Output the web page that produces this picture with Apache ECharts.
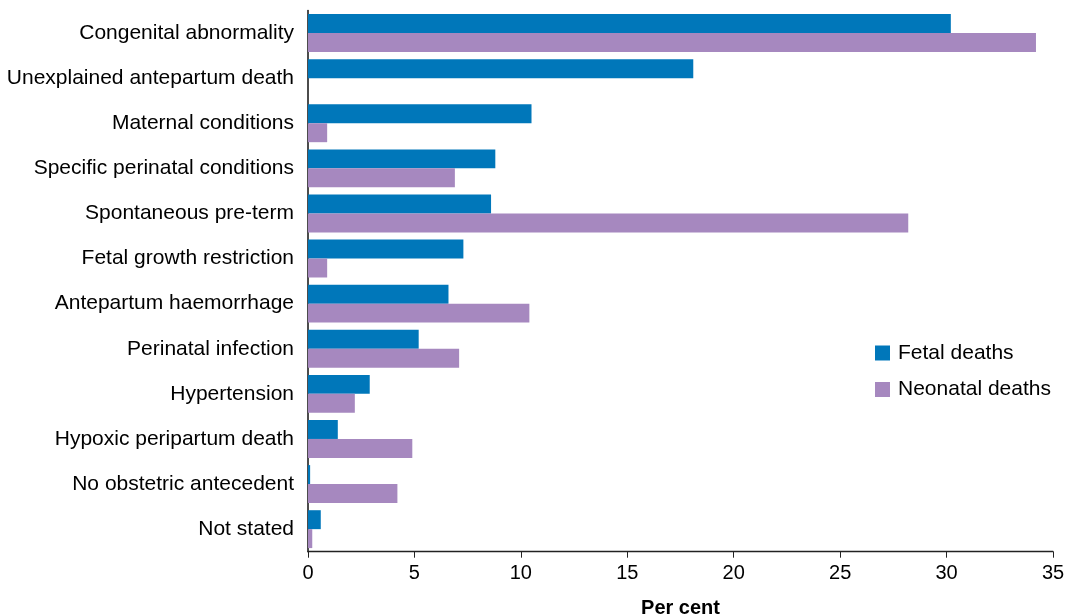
<!DOCTYPE html>
<html><head><meta charset="utf-8">
<script src="https://cdn.jsdelivr.net/npm/echarts@6/dist/echarts.min.js"></script>
<style>html,body{margin:0;padding:0;background:#fff}#c{width:1074px;height:615px}</style>
</head><body><div id="c"></div>
<script>
const categories = ["Congenital abnormality","Unexplained antepartum death","Maternal conditions","Specific perinatal conditions","Spontaneous pre-term","Fetal growth restriction","Antepartum haemorrhage","Perinatal infection","Hypertension","Hypoxic peripartum death","No obstetric antecedent","Not stated"];
const fetalDeaths = [30.2, 18.1, 10.5, 8.8, 8.6, 7.3, 6.6, 5.2, 2.9, 1.4, 0.1, 0.6];
const neonatalDeaths = [34.2, 0, 0.9, 6.9, 28.2, 0.9, 10.4, 7.1, 2.2, 4.9, 4.2, 0.2];
const xTicks = [0,5,10,15,20,25,30,35];
const chart = echarts.init(document.getElementById('c'), null, {renderer:'canvas'});
const font = 'Liberation Sans, Arial, sans-serif';
chart.setOption({
  animation:false,
  textStyle:{fontFamily:font},
  grid:{left:308, right:21, top:10.5, bottom:63.3, containLabel:false, outerBoundsMode:'none'},
  legend:{orient:'vertical', left:875, top:342.5, padding:0, itemWidth:15, itemHeight:15, itemGap:15.5,
    icon:'rect', textStyle:{fontSize:21, color:'#000', fontFamily:font, padding:[0,0,0,3]},
    data:['Fetal deaths','Neonatal deaths']},
  xAxis:{type:'value', min:xTicks[0], max:xTicks[xTicks.length-1], interval:5,
    name:'Per cent', nameLocation:'middle', nameGap:47,
    nameTextStyle:{fontSize:20, fontWeight:'bold', color:'#000', fontFamily:font},
    axisLine:{show:true, lineStyle:{color:'#222', width:1.3}},
    axisTick:{show:true, length:6, lineStyle:{color:'#222'}},
    axisLabel:{fontSize:20, color:'#000', margin:12, fontFamily:font},
    splitLine:{show:false}},
  yAxis:{type:'category', data:categories, inverse:true,
    axisLine:{show:true, lineStyle:{color:'#111', width:1.5}},
    axisTick:{show:false},
    axisLabel:{fontSize:21, color:'#000', margin:14, fontFamily:font}},
  series:[
    {name:'Fetal deaths', type:'bar', data:fetalDeaths, barGap:'0%', barCategoryGap:'16%',
     itemStyle:{color:'#0077BA'}},
    {name:'Neonatal deaths', type:'bar', data:neonatalDeaths, barGap:'0%', barCategoryGap:'16%',
     itemStyle:{color:'#A688BF'}}
  ]
});
</script></body></html>
